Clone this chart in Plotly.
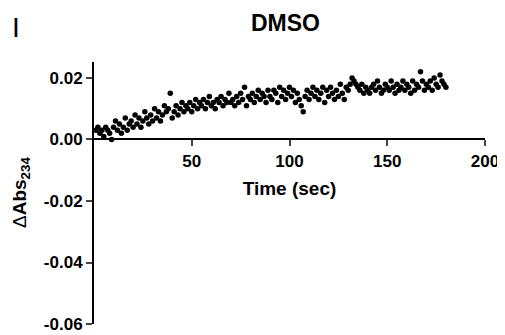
import plotly.graph_objects as go

time_sec = list(range(1, 181))
delta_abs = [
    0.003, 0.004, 0.002, 0.003, 0.001, 0.004, 0.003, 0.002, 0.000, 0.004,
    0.006, 0.003, 0.005, 0.002, 0.004, 0.007, 0.003, 0.005, 0.006, 0.004,
    0.008, 0.005, 0.007, 0.004, 0.006, 0.009, 0.007, 0.005, 0.008, 0.006,
    0.010, 0.007, 0.009, 0.006, 0.008, 0.011, 0.009, 0.010, 0.015, 0.007,
    0.009, 0.011, 0.008, 0.010, 0.012, 0.009, 0.011, 0.010, 0.012, 0.009,
    0.011, 0.013, 0.010, 0.012, 0.011, 0.013, 0.010, 0.012, 0.014, 0.011,
    0.012, 0.010, 0.013, 0.012, 0.014, 0.011, 0.013, 0.012, 0.015, 0.012,
    0.013, 0.011, 0.014, 0.012, 0.015, 0.013, 0.017, 0.011, 0.014, 0.013,
    0.015, 0.012, 0.014, 0.016, 0.013, 0.015, 0.014, 0.012, 0.016, 0.014,
    0.013, 0.016, 0.015, 0.012, 0.017, 0.014, 0.016, 0.013, 0.015, 0.017,
    0.014, 0.016, 0.012, 0.015, 0.013, 0.011, 0.009, 0.014, 0.016, 0.013,
    0.015, 0.017, 0.014, 0.016, 0.013, 0.015, 0.017, 0.012, 0.016, 0.014,
    0.017, 0.015, 0.013, 0.016, 0.014, 0.018, 0.015, 0.013, 0.017, 0.016,
    0.018, 0.020, 0.019, 0.018, 0.017, 0.016, 0.018, 0.015, 0.017, 0.016,
    0.015, 0.017, 0.018, 0.016, 0.019, 0.017, 0.015, 0.016, 0.018, 0.017,
    0.016, 0.019, 0.017, 0.015, 0.018, 0.016, 0.017, 0.019, 0.016, 0.018,
    0.017, 0.015, 0.019, 0.016, 0.018, 0.017, 0.022, 0.019, 0.016, 0.018,
    0.017, 0.019, 0.016, 0.020, 0.018, 0.017, 0.021, 0.019, 0.018, 0.017,
]
x_ticks = [50, 100, 150, 200]
y_ticks = [0.02, 0.00, -0.02, -0.04, -0.06]
y_tick_labels = ["0.02", "0.00", "-0.02", "-0.04", "-0.06"]

Y_MIN, Y_MAX = -0.06, 0.0252
FONT = "Liberation Sans, Arial, sans-serif"
OFF = 8  # page body margin of the generated html
W, H = 505 - OFF, 335 - OFF
ML, MR, MT, MB = 94 - OFF, 20, 62 - OFF, 11
pw, ph = W - ML - MR, H - MT - MB


def px_x(x):
    return (x - OFF - ML) / pw


def px_y(y):
    return (H - MB - (y - OFF)) / ph


fig = go.Figure()
fig.add_trace(go.Scatter(
    x=time_sec, y=delta_abs, mode="markers",
    marker=dict(color="black", size=5.5), showlegend=False, cliponaxis=False,
))

fig.update_layout(
    width=W, height=H,
    margin=dict(l=ML, r=MR, t=MT, b=MB),
    paper_bgcolor="white", plot_bgcolor="white",
    font=dict(family=FONT, color="black"),
    xaxis=dict(
        range=[0, 200], tickvals=x_ticks, ticks="outside", ticklen=6, tickwidth=2,
        showline=True, linewidth=2, linecolor="black", showgrid=False, zeroline=False,
        anchor="free", position=(0 - Y_MIN) / (Y_MAX - Y_MIN), automargin=False,
        tickfont=dict(size=17, family=FONT, weight="bold"),
        title=dict(text="<b>Time (sec)</b>", font=dict(size=19), standoff=11),
    ),
    yaxis=dict(
        range=[Y_MIN, Y_MAX], tickvals=y_ticks, ticktext=y_tick_labels,
        ticks="outside", ticklen=6, tickwidth=2, automargin=False,
        showline=True, linewidth=2, linecolor="black", showgrid=False, zeroline=False,
        tickfont=dict(size=17, family=FONT, weight="bold"),
    ),
)
fig.add_annotation(text="<b>DMSO</b>", x=px_x(285), y=px_y(23),
                   xanchor="center", yanchor="middle",
                   xref="paper", yref="paper", showarrow=False, font=dict(size=23))
fig.add_annotation(text="I", x=px_x(16), y=px_y(28),
                   xanchor="center", yanchor="middle",
                   xref="paper", yref="paper", showarrow=False, font=dict(size=28))
fig.add_annotation(text="Δ<b>Abs</b><sub><b>234</b></sub>", x=px_x(21), y=px_y(193),
                   xanchor="center", yanchor="middle",
                   xref="paper", yref="paper", showarrow=False, textangle=-90,
                   font=dict(size=19))

fig.write_html("out.html")
